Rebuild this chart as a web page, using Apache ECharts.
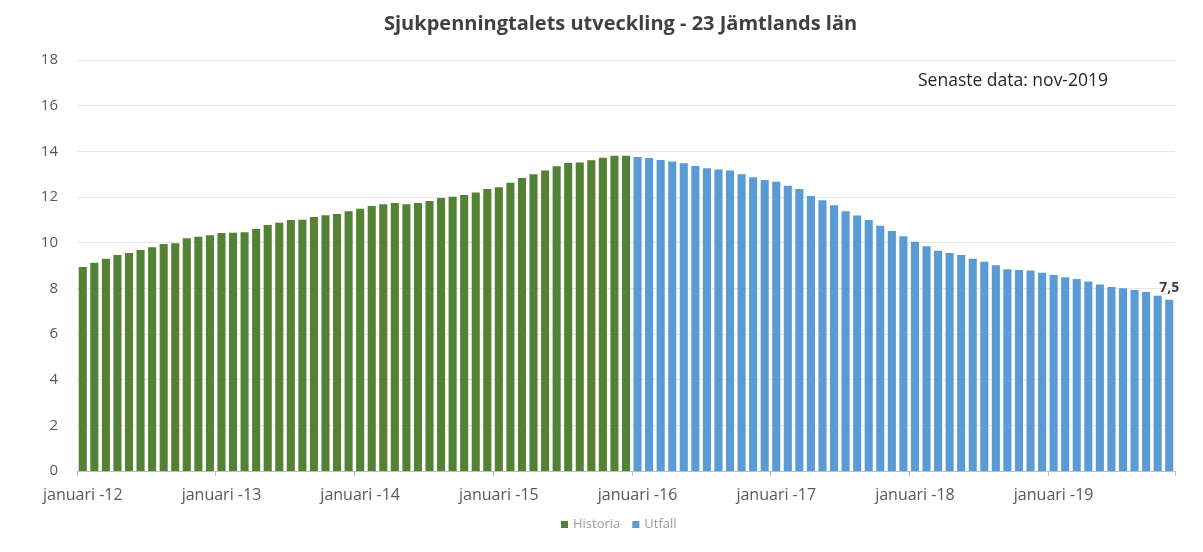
<!DOCTYPE html>
<html>
<head>
<meta charset="utf-8">
<script src="https://cdn.jsdelivr.net/npm/echarts@6/dist/echarts.min.js"></script>
<style>
html,body{margin:0;padding:0;background:#fff;}
#c{width:1203px;height:552px;}
</style>
</head>
<body>
<div id="c"></div>
<script>
var years = ['12','13','14','15','16','17','18','19'];
var monthNames = ['jan','feb','mar','apr','maj','jun','jul','aug','sep','okt','nov','dec'];
var historia = [8.93,9.12,9.30,9.46,9.55,9.68,9.80,9.94,9.97,10.19,10.26,10.33,
                10.42,10.43,10.46,10.60,10.77,10.87,10.99,11.00,11.12,11.20,11.26,11.38,
                11.49,11.61,11.68,11.74,11.68,11.74,11.83,11.96,12.01,12.09,12.20,12.35,
                12.43,12.62,12.83,13.00,13.16,13.35,13.49,13.51,13.61,13.72,13.81,13.81];
var utfall = [13.75,13.71,13.62,13.55,13.48,13.36,13.26,13.20,13.16,13.00,12.86,12.74,
              12.67,12.49,12.35,12.04,11.86,11.64,11.38,11.19,10.99,10.74,10.51,10.28,
              10.04,9.84,9.65,9.55,9.46,9.30,9.16,9.01,8.84,8.80,8.78,8.68,
              8.58,8.48,8.41,8.30,8.17,8.06,8.00,7.93,7.84,7.68,7.50];
var yTicks = [0,2,4,6,8,10,12,14,16,18];

var categories = [];
years.forEach(function(y){ monthNames.forEach(function(m){ categories.push(m + '-' + y); }); });
categories = categories.slice(0, historia.length + utfall.length);

var histData = categories.map(function(c,i){ return i < historia.length ? historia[i] : '-'; });
var utfData = categories.map(function(c,i){ return i >= historia.length ? utfall[i-historia.length] : '-'; });
var lastIdx = categories.length - 1;

var chart = echarts.init(document.getElementById('c'));
var font = '"Open Sans", "Noto Sans", sans-serif';
chart.setOption({
  animation: false,
  textStyle: {fontFamily: font},
  title: {
    text: 'Sjukpenningtalets utveckling - 23 Jämtlands län',
    left: 379, top: 9,
    textStyle: {fontFamily: font, fontSize: 20, fontWeight: 'bold', color: '#404040'}
  },
  graphic: [{
    type: 'text', left: 918, top: 72,
    style: {text: 'Senaste data: nov-2019', fontFamily: font, fontSize: 17.5, fill: '#262626'}
  }],
  legend: {
    bottom: 16, left: 556,
    itemWidth: 7, itemHeight: 7, itemGap: 12,
    icon: 'rect',
    textStyle: {fontSize: 13, color: '#9a9a9a', fontFamily: font, padding: [0,0,0,0]},
    data: ['Historia','Utfall']
  },
  grid: {left: 77, right: 28, top: 60, bottom: 81},
  xAxis: {
    type: 'category',
    data: categories,
    boundaryGap: true,
    axisLine: {lineStyle: {color: '#bfbfbf', width: 1}},
    axisTick: {show: true, interval: function(i){ return i % 12 === 0; }, length: 5, lineStyle: {color: '#bfbfbf'}},
    axisLabel: {
      interval: function(i){ return i % 12 === 0; },
      formatter: function(v){ return 'januari -' + v.split('-')[1]; },
      color: '#595959', fontSize: 16, margin: 16, fontFamily: font
    }
  },
  yAxis: {
    type: 'value', min: 0, max: 18, interval: 2,
    axisLine: {show: false}, axisTick: {show: false},
    splitLine: {lineStyle: {color: '#e6e6e6', width: 1}},
    axisLabel: {color: '#595959', fontSize: 15, margin: 19, fontFamily: font,
      formatter: function(v){ return yTicks.indexOf(v) >= 0 ? String(v) : ''; }}
  },
  series: [{
    name: 'Historia', type: 'bar', stack: 's', data: histData,
    barCategoryGap: '30%',
    itemStyle: {color: '#548235'}
  }, {
    name: 'Utfall', type: 'bar', stack: 's', data: utfData,
    barCategoryGap: '30%',
    itemStyle: {color: '#5b9bd5'},
    label: {
      show: true, position: 'top', distance: 5,
      color: '#404040', fontSize: 14, fontWeight: 'bold', fontFamily: font,
      formatter: function(p){ return p.dataIndex === lastIdx ? String(p.value).replace('.', ',') : ''; }
    }
  }]
});
</script>
</body>
</html>
